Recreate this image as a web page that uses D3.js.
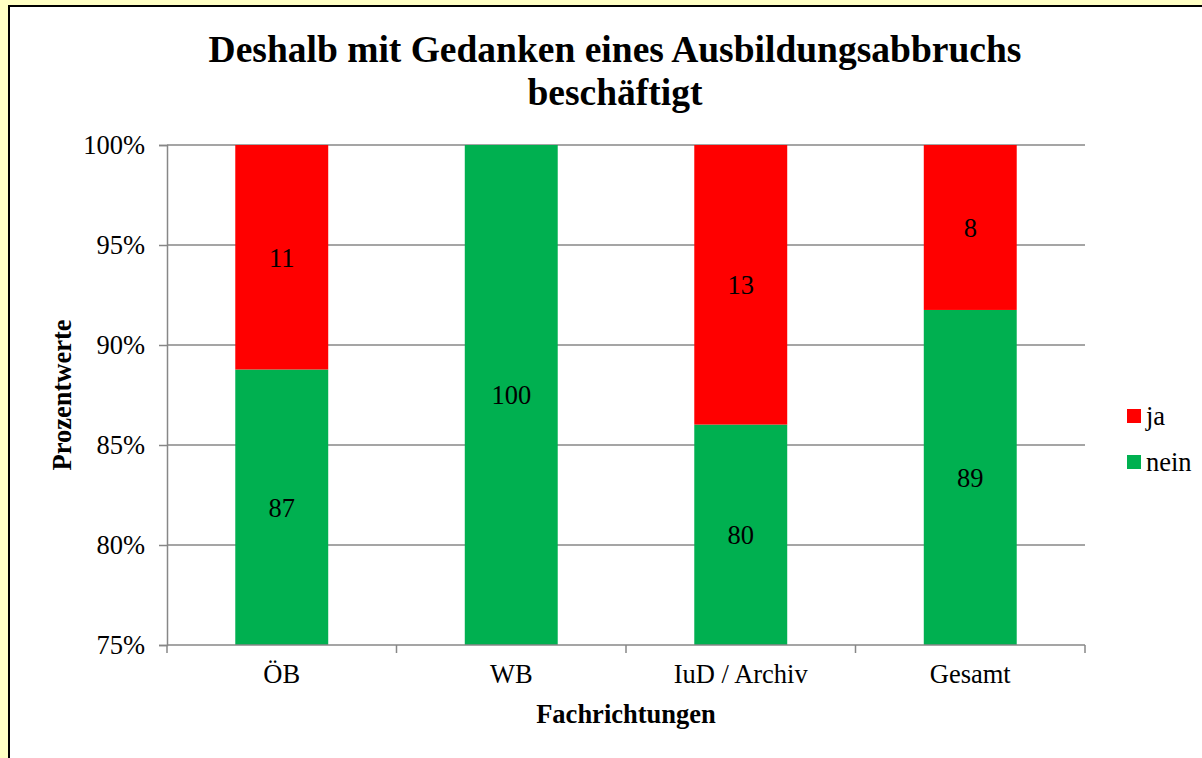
<!DOCTYPE html>
<html>
<head>
<meta charset="utf-8">
<script src="https://cdn.jsdelivr.net/npm/d3@7"></script>
<style>
  html, body { margin: 0; padding: 0; background: #FFFFC4; }
  svg { display: block; }
  text { font-family: "Liberation Serif", "Times New Roman", serif; fill: #000; }
</style>
</head>
<body>
<svg id="chart" width="1202" height="758"></svg>
<script>
// Fachrichtungen and answer counts per series
const categories = ["ÖB", "WB", "IuD / Archiv", "Gesamt"];
const seriesNames = ["ja", "nein"];
const jaValues = [11, 0, 13, 8];
const neinValues = [87, 100, 80, 89];
const yTicks = [0.75, 0.80, 0.85, 0.90, 0.95, 1.00];
const titleLines = ["Deshalb mit Gedanken eines Ausbildungsabbruchs", "beschäftigt"];
const colors = { ja: "#FF0000", nein: "#00B050" };

const svg = d3.select("#chart");
const W = 1202, H = 758;
const FS = 26.5;

// white chart frame with black border
svg.append("rect")
  .attr("x", 9).attr("y", 6)
  .attr("width", W + 20).attr("height", H + 20)
  .attr("fill", "#fff").attr("stroke", "#000").attr("stroke-width", 2);

const plot = { left: 167, right: 1085, top: 145, bottom: 645 };

const x = d3.scaleBand().domain(categories)
  .range([plot.left, plot.right]).paddingInner(0.595).paddingOuter(0.2975);
const y = d3.scaleLinear().domain([0.75, 1.0]).range([plot.bottom, plot.top]);

// stacked shares (100 % stacking)
const rows = categories.map((c, i) => ({ cat: c, nein: neinValues[i], ja: jaValues[i] }));
const stack = d3.stack().keys(["nein", "ja"]).offset(d3.stackOffsetExpand);
const layers = stack(rows);

// gridlines
svg.append("g").selectAll("line").data(yTicks.slice(1)).join("line")
  .attr("x1", plot.left).attr("x2", plot.right)
  .attr("y1", d => y(d)).attr("y2", d => y(d))
  .attr("stroke", "#878787").attr("stroke-width", 1.5);

// bars, clipped to the plot area
svg.append("clipPath").attr("id", "plotClip").append("rect")
  .attr("x", plot.left).attr("y", plot.top)
  .attr("width", plot.right - plot.left).attr("height", plot.bottom - plot.top);

const barG = svg.append("g").attr("clip-path", "url(#plotClip)");
layers.forEach(layer => {
  barG.append("g").selectAll("rect").data(layer).join("rect")
    .attr("x", d => x(d.data.cat))
    .attr("width", x.bandwidth())
    .attr("y", d => y(d[1]))
    .attr("height", d => Math.max(0, y(d[0]) - y(d[1])))
    .attr("fill", colors[layer.key]);
});

// value labels, centred in the visible part of each segment
const dom = y.domain();
layers.forEach(layer => {
  svg.append("g").selectAll("text").data(layer.filter(d => d.data[layer.key] > 0)).join("text")
    .attr("x", d => x(d.data.cat) + x.bandwidth() / 2)
    .attr("y", d => {
      const lo = Math.max(d[0], dom[0]), hi = Math.min(d[1], dom[1]);
      return y((lo + hi) / 2);
    })
    .attr("dy", "0.35em")
    .attr("text-anchor", "middle")
    .attr("font-size", FS)
    .text(d => d.data[layer.key]);
});

// y axis
const yAxis = d3.axisLeft(y).tickValues(yTicks).tickFormat(d3.format(".0%")).tickSize(8).tickPadding(14);
const yg = svg.append("g").attr("transform", `translate(${plot.left},0)`).call(yAxis);
yg.select(".domain").attr("stroke", "#878787").attr("stroke-width", 1.5);
yg.selectAll(".tick line").attr("stroke", "#878787").attr("stroke-width", 1.5);
yg.selectAll(".tick text").attr("font-size", FS).attr("font-family", "Liberation Serif").attr("fill", "#000");

// x axis with ticks between categories
const xg = svg.append("g").attr("transform", `translate(0,${plot.bottom})`);
xg.append("line").attr("x1", plot.left).attr("x2", plot.right)
  .attr("stroke", "#878787").attr("stroke-width", 1.5);
const step = (plot.right - plot.left) / categories.length;
xg.selectAll("line.sep").data(d3.range(categories.length + 1)).join("line")
  .attr("class", "sep")
  .attr("x1", i => plot.left + i * step).attr("x2", i => plot.left + i * step)
  .attr("y1", 0).attr("y2", 8)
  .attr("stroke", "#878787").attr("stroke-width", 1.5);
xg.selectAll("text").data(categories).join("text")
  .attr("x", d => x(d) + x.bandwidth() / 2)
  .attr("y", 38)
  .attr("text-anchor", "middle")
  .attr("font-size", FS)
  .text(d => d);

// axis titles
svg.append("text")
  .attr("x", 626).attr("y", 723)
  .attr("text-anchor", "middle").attr("font-weight", "bold").attr("font-size", 26.5)
  .text("Fachrichtungen");
svg.append("text")
  .attr("transform", "translate(71,395) rotate(-90)")
  .attr("text-anchor", "middle").attr("font-weight", "bold").attr("font-size", 26.5)
  .text("Prozentwerte");

// title
svg.append("g").selectAll("text").data(titleLines).join("text")
  .attr("x", 615).attr("y", (d, i) => 62 + i * 43)
  .attr("text-anchor", "middle").attr("font-weight", "bold").attr("font-size", 37.5)
  .text(d => d);

// legend
const legend = svg.append("g");
seriesNames.forEach((name, i) => {
  const ly = 409 + i * 46;
  legend.append("rect").attr("x", 1127).attr("y", ly).attr("width", 14).attr("height", 14)
    .attr("fill", colors[name]);
  legend.append("text").attr("x", 1146).attr("y", ly + 7).attr("dy", "0.35em")
    .attr("font-size", FS).text(name);
});
</script>
</body>
</html>
